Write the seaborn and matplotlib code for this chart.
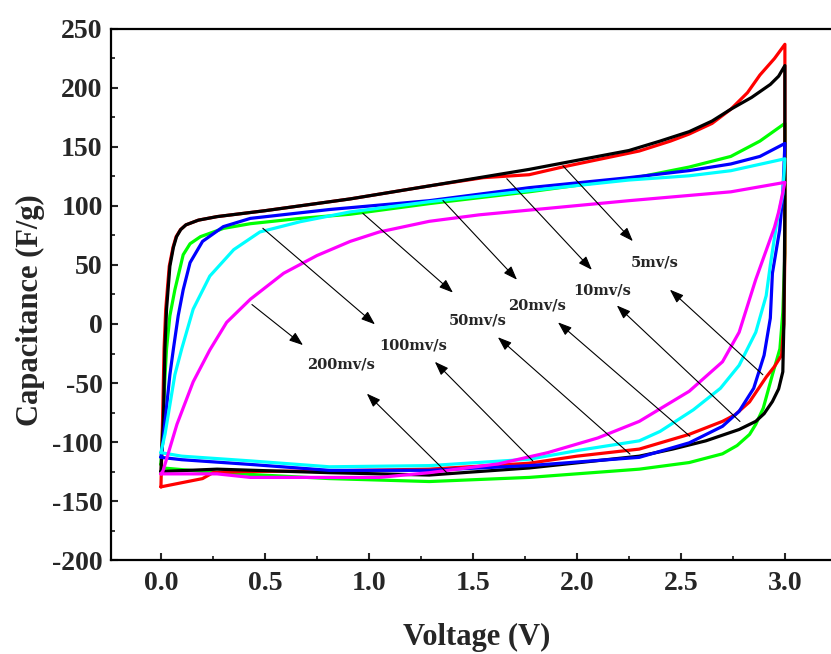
import matplotlib
matplotlib.use("Agg")
import matplotlib.pyplot as plt
import numpy as np
import pandas as pd
import seaborn as sns
from matplotlib.ticker import MultipleLocator

# ---------------- data ----------------
rates = ["5mv/s", "10mv/s", "20mv/s", "50mv/s", "100mv/s", "200mv/s"]
colors = {"5mv/s": "#FF0000", "10mv/s": "#000000", "20mv/s": "#00FF00",
          "50mv/s": "#0000FF", "100mv/s": "#00FFFF", "200mv/s": "#FF00FF"}

v_5 = [0.0, 0.008, 0.015, 0.023, 0.04, 0.058, 0.073, 0.094, 0.12, 0.18, 0.27, 0.5, 0.91, 1.29, 1.55, 1.77,
       1.93, 2.30, 2.45, 2.54, 2.65, 2.74, 2.82, 2.88, 2.95, 3.0,
       3.0, 2.995, 2.984, 2.95, 2.91, 2.83, 2.76, 2.70, 2.54, 2.30, 2.0, 1.77, 1.29, 0.81, 0.4, 0.25, 0.2, 0.0]
c_5 = [-138, -80, -21, 12.6, 49, 65, 74, 80, 84, 88, 91, 96, 106, 117, 124, 126.5,
       133, 146.6, 155, 161, 170, 182, 196, 211, 225, 237,
       60, 0, -26.5, -36, -45, -66, -77, -82.5, -93.5, -106, -112, -118, -123, -124.5, -125, -126, -131, -138]

v_10 = [0.0, 0.012, 0.019, 0.027, 0.043, 0.06, 0.075, 0.095, 0.12, 0.18, 0.27, 0.5, 0.91, 1.29, 1.77, 2.25,
        2.40, 2.54, 2.65, 2.74, 2.84, 2.93, 2.97, 3.0,
        3.0, 2.995, 2.99, 2.97, 2.94, 2.90, 2.86, 2.78, 2.62, 2.46, 2.30, 1.77, 1.29, 0.81, 0.27, 0.0]
c_10 = [-125, -80, -21, 12.6, 49, 65, 74, 80, 84, 88, 91, 96, 106, 117, 131, 147,
        155, 163, 172, 182, 192, 203, 210, 219,
        100, 0, -40.5, -55, -65.7, -76, -82.5, -89.4, -99, -106, -112, -122, -128, -126, -123, -125]

v_20 = [0.0, 0.02, 0.027, 0.043, 0.067, 0.107, 0.14, 0.19, 0.30, 0.43, 0.67, 0.91, 1.29, 1.77, 2.30, 2.54,
        2.74, 2.88, 3.0,
        3.0, 2.99, 2.976, 2.94, 2.896, 2.86, 2.83, 2.77, 2.70, 2.54, 2.30, 1.77, 1.29, 0.81, 0.27, 0.01, 0.0]
c_20 = [-119, -43, -21, 7, 29, 58.7, 68, 74, 81, 85, 89.5, 93, 102, 112, 124.6, 133,
        142, 155, 170,
        60, 10, -21, -43, -71.3, -85, -93.6, -103, -110, -117.4, -123, -130, -133.5, -131, -126, -122, -119]

v_50 = [0.0, 0.01, 0.043, 0.06, 0.083, 0.107, 0.14, 0.2, 0.30, 0.43, 0.81, 1.29, 1.77, 2.25, 2.54, 2.74,
        2.88, 3.0,
        2.99, 2.975, 2.94, 2.93, 2.90, 2.85, 2.78, 2.70, 2.54, 2.30, 1.77, 1.29, 0.81, 0.43, 0.1, 0.0]
c_50 = [-113, -99, -43, -21, 7, 29, 52, 70, 82.5, 89.5, 97, 104.5, 115.5, 124, 130, 135.6,
        142, 153,
        110, 80, 43, 5, -26.5, -54.5, -74, -86.7, -100.7, -113, -120, -124, -124, -119, -115, -113]

v_100 = [0.0, 0.02, 0.067, 0.10, 0.155, 0.235, 0.35, 0.476, 0.67, 0.91, 1.29, 1.77, 2.25, 2.54, 2.74, 3.0,
         2.99, 2.96, 2.93, 2.91, 2.86, 2.78, 2.69, 2.56, 2.40, 2.30, 2.01, 1.77, 1.29, 0.81, 0.43, 0.1, 0.0]
c_100 = [-109, -93, -43, -21, 12.6, 40.6, 63, 78, 86.7, 95, 103.6, 113, 122, 125.6, 129.9, 140,
         110, 85, 50, 24, -7, -35, -54.5, -72.7, -91, -99, -107, -114.6, -120, -121, -116, -112, -109]

v_200 = [0.0, 0.01, 0.077, 0.155, 0.235, 0.316, 0.43, 0.59, 0.75, 0.91, 1.05, 1.29, 1.53, 1.77, 2.25, 2.74, 3.0,
         2.97, 2.95, 2.86, 2.78, 2.70, 2.54, 2.38, 2.30, 2.10, 1.86, 1.62, 1.29, 1.05, 0.81, 0.43, 0.27, 0.0]
c_200 = [-127, -124.5, -85, -49, -22, 1.4, 21, 43, 58, 70, 78, 87, 92.5, 96.5, 104.5, 112, 120,
         95, 82, 37.8, -7, -32, -57, -74, -82.5, -96.6, -109, -118.6, -126, -130, -130, -130, -127, -127]

curves = {"5mv/s": (v_5, c_5), "10mv/s": (v_10, c_10), "20mv/s": (v_20, c_20),
          "50mv/s": (v_50, c_50), "100mv/s": (v_100, c_100), "200mv/s": (v_200, c_200)}

frames = []
for r in rates:
    v, c = curves[r]
    frames.append(pd.DataFrame({"V": v, "C": c, "rate": r, "idx": np.arange(len(v))}))
df = pd.concat(frames, ignore_index=True)

# ---------------- figure ----------------
sns.set_style("ticks")
plt.rcParams["font.family"] = ["Liberation Serif", "DejaVu Serif"]
plt.rcParams["font.weight"] = "bold"

fig = plt.figure(figsize=(8.31, 6.54), dpi=100)
ax = fig.add_axes([0.1336, 0.1437, 0.886, 0.812])

draw_order = ["20mv/s", "5mv/s", "10mv/s", "50mv/s", "100mv/s", "200mv/s"]
for r in draw_order:
    sub = df[df["rate"] == r]
    sns.lineplot(data=sub, x="V", y="C", sort=False, estimator=None,
                 color=colors[r], linewidth=2.3, ax=ax, legend=False)

ax.set_xlim(-0.24, 3.3)
ax.set_ylim(-200, 250)
ax.xaxis.set_major_locator(MultipleLocator(0.5))
ax.xaxis.set_minor_locator(MultipleLocator(0.25))
ax.yaxis.set_major_locator(MultipleLocator(50))
ax.yaxis.set_minor_locator(MultipleLocator(25))
ax.xaxis.set_major_formatter(matplotlib.ticker.FormatStrFormatter("%.1f"))
ax.yaxis.set_major_formatter(matplotlib.ticker.FormatStrFormatter("%d"))

ax.tick_params(axis="both", which="major", direction="in", length=5, width=1.5,
               labelsize=20, pad=8, top=False, right=False)
ax.tick_params(axis="both", which="minor", direction="in", length=3, width=1.3,
               top=False, right=False)
ax.tick_params(axis="y", which="major", pad=6)
for lab in ax.get_xticklabels() + ax.get_yticklabels():
    lab.set_fontweight("bold")
for s in ax.spines.values():
    s.set_linewidth(1.6)
    s.set_color("black")
ax.spines["right"].set_visible(False)

ax.set_xlabel("Voltage (V)", fontsize=22, fontweight="bold")
ax.set_ylabel("Capacitance (F/g)", fontsize=22, fontweight="bold")
ax.xaxis.set_label_coords(0.496, -0.119)
ax.yaxis.set_label_coords(-0.09, 0.471)

# ---------------- arrows and labels ----------------
arrow_kw = dict(arrowstyle="-|>,head_length=0.6,head_width=0.22", color="black",
                lw=0.8, shrinkA=0, shrinkB=0, mutation_scale=14)
upper_arrows = [((1.933, 134.0), (2.269, 70.2)), ((1.663, 123.1), (2.072, 45.9)),
                ((1.356, 104.6), (1.712, 37.5)), ((0.971, 93.7), (1.404, 26.6)),
                ((0.490, 81.1), (1.029, -0.3)), ((0.4375, 16.5), (0.683, -17.9))]
lower_arrows = [((2.894, -43.0), (2.447, 29.1)), ((2.784, -82.6), (2.192, 15.7)),
                ((2.543, -95.1), (1.909, 1.4)), ((2.255, -110.2), (1.620, -11.2)),
                ((1.788, -116.0), (1.317, -32.0)), ((1.375, -126.1), (0.990, -59.0))]
for tail, head in upper_arrows + lower_arrows:
    ax.annotate("", xy=head, xytext=tail, arrowprops=arrow_kw)

label_pos = [(2.375, 51.8), (2.12, 28.3), (1.808, 15.7), (1.524, 3.1), (1.212, -17.9), (0.865, -34.6)]
for r, (x, y) in zip(rates, label_pos):
    ax.text(x, y, r, ha="center", va="center", fontsize=10.5, fontweight="bold",
            family=["DejaVu Serif"])

fig.savefig("out.png", dpi=100)
